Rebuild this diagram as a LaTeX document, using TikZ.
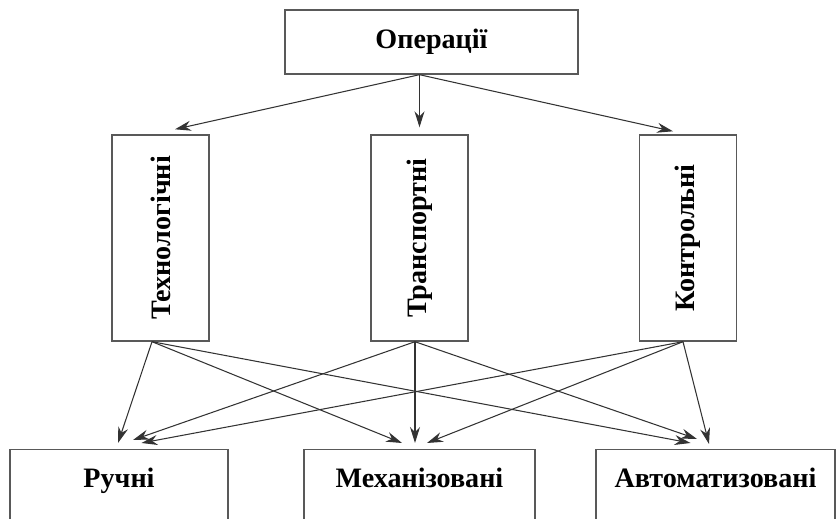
\documentclass[tikz,border=0pt]{standalone}
\usepackage{fontspec}
\setmainfont{Liberation Serif}
\usepackage{graphicx}
\usetikzlibrary{arrows.meta, positioning, calc}

\begin{document}
\begin{tikzpicture}[
  top/.style={rectangle, draw=black!65, line width=0.8pt, fill=white,
              minimum width=5.86cm, minimum height=1.28cm,
              font=\bfseries\fontsize{16}{19}\selectfont},
  kind/.style={rectangle, draw=black!65, line width=0.8pt, fill=white,
               minimum width=1.94cm, minimum height=4.12cm,
               font=\bfseries\fontsize{16}{19}\selectfont},
  mode/.style={rectangle, draw=black!65, line width=0.8pt, fill=white,
               anchor=north, inner ysep=0pt, text height=0.76cm, text depth=0.95cm,
               font=\bfseries\fontsize{16}{19}\selectfont},
  link/.style={draw=black!80, line width=0.6pt,
               -{Stealth[length=3.2mm, width=2mm]}}]

  \useasboundingbox (0,0) rectangle (16.8,10.36);
  \clip (0,0) rectangle (16.8,10.36);

  % ---- Top ----
  \node[top] (ops) at (8.63, 9.52) {Операції};

  % ---- Kinds of operations ----
  \node[kind] (tech)  at (3.21, 5.6)  {\rotatebox{90}{Технологічні}};
  \node[kind] (trans) at (8.39, 5.6)  {\rotatebox{90}{Транспортні}};
  \node[kind] (contr) at (13.76, 5.6) {\rotatebox{90}{Контрольні}};

  % ---- Modes ----
  \node[mode, minimum width=4.36cm] (rucni) at (2.38, 1.38)  {Ручні};
  \node[mode, minimum width=4.62cm] (mekh)  at (8.39, 1.38)  {Механізовані};
  \node[mode, minimum width=4.78cm] (avto)  at (14.31, 1.38) {Автоматизовані};

  % ---- Top level ----
  \coordinate (ops-out) at (ops.south -| trans.north);
  \draw[link] (ops-out) -- ([xshift=0.29cm, yshift=0.1cm]tech.north);
  \draw[link] (ops-out) -- ([yshift=0.14cm]trans.north);
  \draw[link] (ops-out) -- ([xshift=-0.3cm, yshift=0.06cm]contr.north);

  % ---- Lower level ----
  \coordinate (tech-out)  at ([xshift=-0.17cm]tech.south);
  \coordinate (trans-out) at ([xshift=-0.09cm]trans.south);
  \coordinate (contr-out) at ([xshift=-0.1cm]contr.south);

  % Technological
  \draw[link] (tech-out) -- ([xshift=-0.02cm, yshift=0.12cm]rucni.north);
  \draw[link] (tech-out) -- ([xshift=-0.35cm, yshift=0.12cm]mekh.north);
  \draw[link] (tech-out) -- ([xshift=-0.5cm, yshift=0.12cm]avto.north);

  % Transport
  \draw[link] (trans-out) -- ([xshift=0.28cm, yshift=0.18cm]rucni.north);
  \draw[link] (trans-out) -- ([xshift=-0.09cm, yshift=0.12cm]mekh.north);
  \draw[link] (trans-out) -- ([xshift=-0.37cm, yshift=0.2cm]avto.north);

  % Control
  \draw[link] (contr-out) -- ([xshift=0.45cm, yshift=0.12cm]rucni.north);
  \draw[link] (contr-out) -- ([xshift=0.15cm, yshift=0.12cm]mekh.north);
  \draw[link] (contr-out) -- ([xshift=-0.13cm, yshift=0.1cm]avto.north);

\end{tikzpicture}
\end{document}
